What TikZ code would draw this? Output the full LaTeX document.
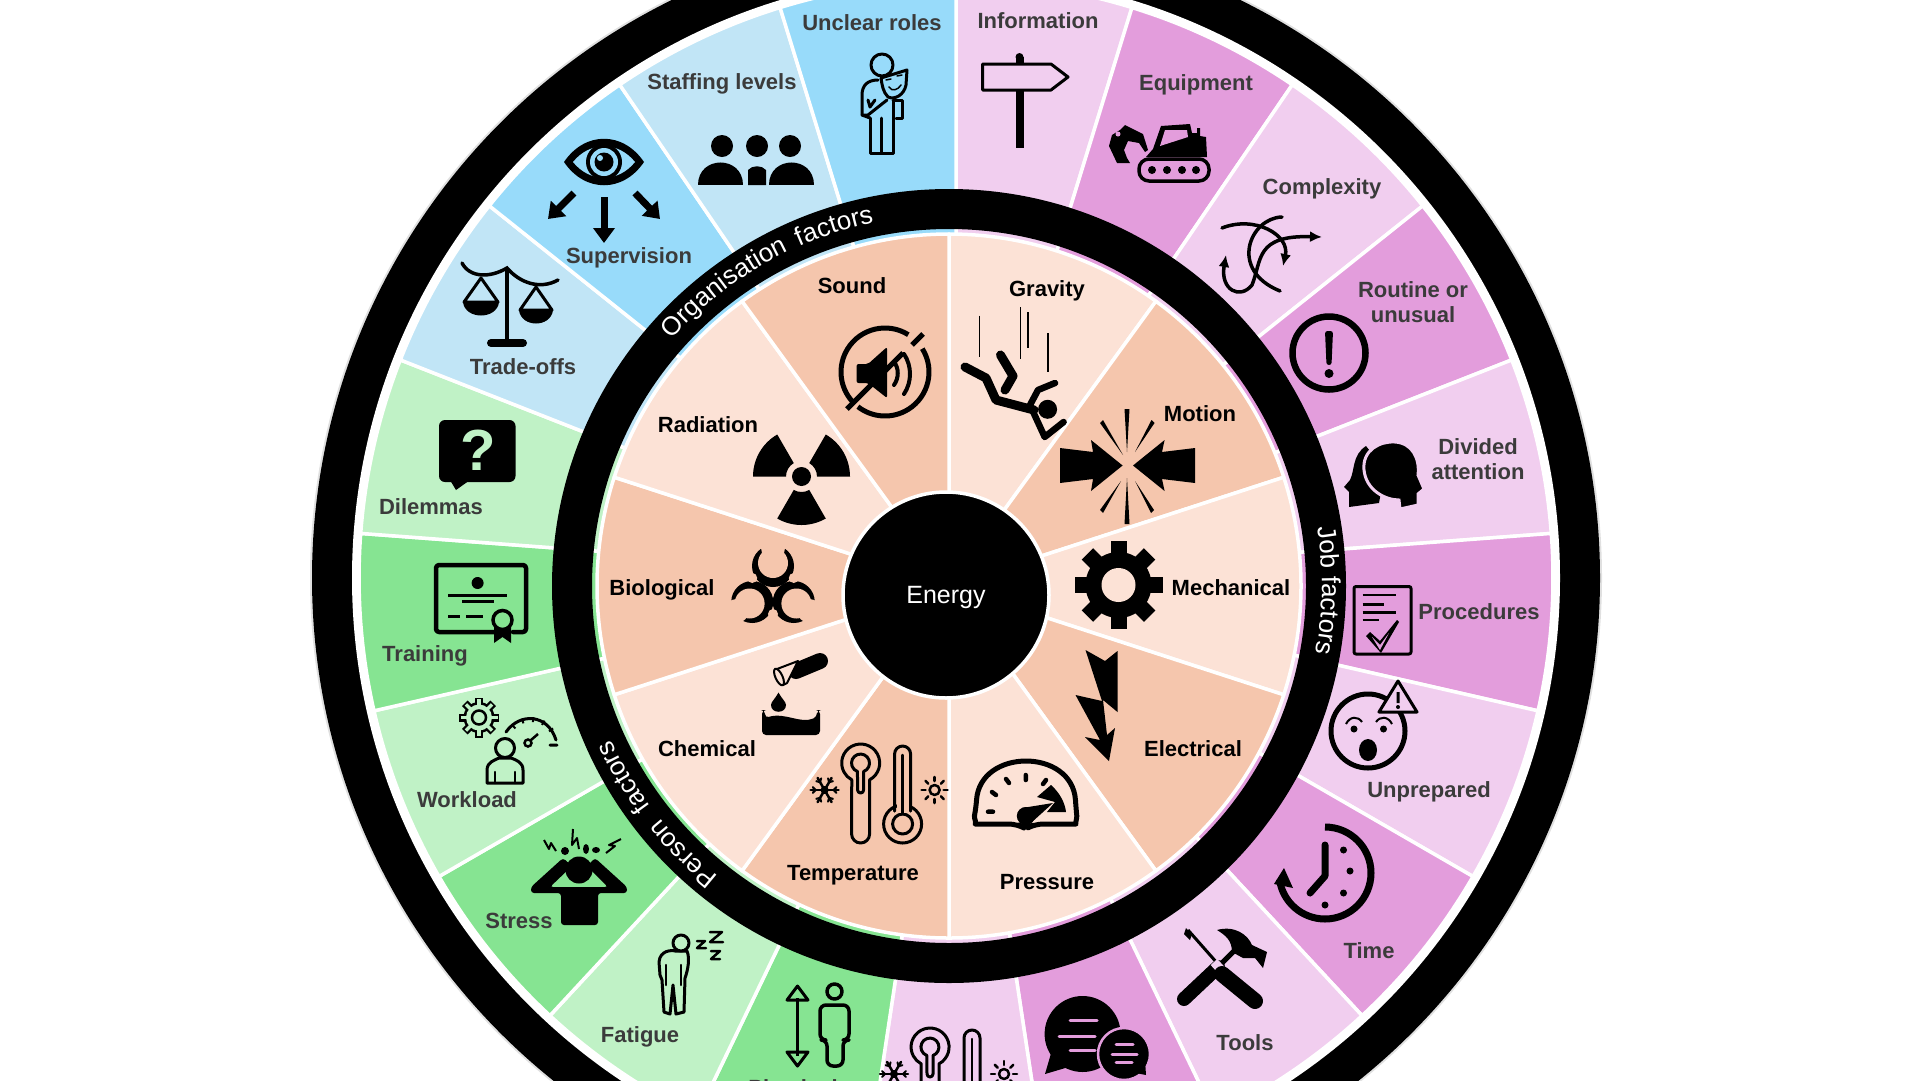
\documentclass[tikz,border=0pt]{standalone}
\usepackage{fontspec}
\setmainfont{Liberation Sans}
\usetikzlibrary{arrows.meta,calc,decorations.text}

\definecolor{pinkL}{HTML}{F1CEEF}
\definecolor{pinkD}{HTML}{E39DDC}
\definecolor{blueL}{HTML}{C1E5F6}
\definecolor{blueD}{HTML}{98DBFA}
\definecolor{greenL}{HTML}{C0F2C6}
\definecolor{greenD}{HTML}{86E492}
\definecolor{orangeL}{HTML}{FCE2D6}
\definecolor{orangeD}{HTML}{F5C6AD}
\definecolor{lblgrey}{HTML}{3B3B3B}

\newcommand{\ringfont}{\color{white}\fontsize{26}{26}\selectfont}
% the thermometers come twice
\newcommand{\tempicon}[3]{
  \begin{scope}[shift={(#1,#2)},ico,line width=3]
    \draw (9,71) -- (9,16.8) arc[start angle=62,delta angle=-304,radius=19] -- (-9,71)
      arc[start angle=180,delta angle=-180,radius=9];
    \draw (3,27) -- (3,8.5) arc[start angle=70,delta angle=-320,radius=9] -- (-3,27)
      arc[start angle=180,delta angle=-180,radius=3];
    \draw (34,48) -- (34,-9) arc[start angle=180,delta angle=180,radius=8] -- (50,48);
    \draw (42,61) circle (19) (42,61) circle (10);
    \fill[#3] (36,40) rectangle (48,50);
    \draw[line width=2.5] (34,46) -- (34,48) (50,46) -- (50,48) (42,51) -- (42,-8);
    \draw[line width=2] (-36,27) circle (3);
    \foreach \r in {0,60,...,300} {
      \draw[line width=2.5] (-36,27) -- +(\r:14);
      \draw[line width=2] (-36,27) ++(\r:9) -- +(\r+45:4) (-36,27) ++(\r:9) -- +(\r-45:4);
    }
    \draw[line width=2.5] (74,27) circle (5);
    \foreach \r in {0,45,...,315}
      \draw[line width=2.5] (74,27) ++(\r:9) -- +(\r:4);
  \end{scope}
}

\begin{document}
\begin{tikzpicture}[x=1pt,y=1pt,yscale=-1,
    outlbl/.style={font=\fontsize{22}{25}\selectfont\bfseries,text=lblgrey,align=center,inner sep=0},
    inlbl/.style={font=\fontsize{22}{25}\selectfont\bfseries,text=black,inner sep=0,text depth=0pt},
    ico/.style={line width=3.5,line join=round,line cap=round},
    fat/.style={line width=7,-{Triangle[width=21pt,length=15pt]}},
    spoke/.style={draw=white,line width=3.5,line join=round}]
  \useasboundingbox (0,0) rectangle (1920,1080);
  \clip (0,0) rectangle (1920,1080);

  \coordinate (outerC) at (956,578);
  \coordinate (innerC) at (949,586);

  % outer band
  \fill[black!12] (outerC) circle (646);
  \fill[black] (outerC) circle (644);
  \fill[white] (outerC) circle (604);
  \foreach \i/\col in {0/pinkL,1/pinkD,2/pinkL,3/pinkD,4/pinkL,5/pinkD,6/pinkL,7/pinkD,8/pinkL,9/pinkD,10/pinkL,
      11/greenD,12/greenL,13/greenD,14/greenL,15/greenD,16/greenL,
      17/blueL,18/blueD,19/blueL,20/blueD} {
    \pgfmathsetmacro\startang{-90+\i*360/21}
    \path[fill=\col,spoke] (outerC) -- ++(\startang:597)
      arc[start angle=\startang,delta angle=360/21,radius=597] -- cycle;
  }

  % inner wheel
  \fill[black,even odd rule] (innerC) circle (397) circle (357);
  \fill[white] (innerC) circle (353);
  \foreach \i/\col in {0/orangeL,1/orangeD,2/orangeL,3/orangeD,4/orangeL,5/orangeD,6/orangeL,7/orangeD,8/orangeL,9/orangeD} {
    \pgfmathsetmacro\startang{-90+\i*36}
    \path[fill=\col,spoke] (innerC) -- ++(\startang:352)
      arc[start angle=\startang,delta angle=36,radius=352] -- cycle;
  }
  \node[circle,fill=black,draw=white,line width=3.5,minimum size=206,inner sep=0] (energy) at (946,595) {};
  \node[text=white,inner sep=0,text depth=0pt,font=\fontsize{25}{25}\selectfont] (energytxt) at (energy.center) {Energy};

  % ring titles
  \path[decorate,decoration={text along path,text align=center,text={|\ringfont\spaceskip=12pt |Organisation factors}}]
    (innerC) ++(-142:371) arc[start angle=-142,delta angle=44,radius=371];
  \path[decorate,decoration={text along path,text align=center,text={|\ringfont|Job factors}}]
    (innerC) ++(-12.8:373) arc[start angle=-12.8,delta angle=27,radius=373];
  \path[decorate,decoration={text along path,text align=center,text={|\ringfont\spaceskip=15pt |Person factors}}]
    (innerC) ++(124:371) arc[start angle=124,delta angle=36,radius=371];

  % labels
  \foreach \nm/\x/\y/\txt in {unclear/872/23/Unclear roles,staffing/722/82/Staffing levels,
      supervision/629/256/Supervision,tradeoffs/523/367/Trade-offs,dilemmas/431/507/Dilemmas,
      training/425/654/Training,workload/467/800/Workload,stress/519/921/Stress,fatigue/640/1035/Fatigue,
      physical/793/1088/Physical,information/1038/21/Information,equipment/1196/83/Equipment,
      complexity/1322/187/Complexity,procedures/1479/612/Procedures,unprepared/1429/790/Unprepared,
      time/1369/951/Time,tools/1245/1043/Tools}
    \node[outlbl,text depth=0pt] (\nm) at (\x,\y) {\txt};
  \node[outlbl] (routine) at (1413,302) {Routine or\\unusual};
  \node[outlbl] (divided) at (1478,459) {Divided\\attention};
  \foreach \nm/\x/\y/\txt in {sound/852/286/Sound,gravity/1047/289/Gravity,motion/1200/414/Motion,
      mechanical/1231/588/Mechanical,electrical/1193/749/Electrical,pressure/1047/882/Pressure,
      temperature/853/873/Temperature,chemical/707/749/Chemical,biological/662/588/Biological,radiation/708/425/Radiation}
    \node[inlbl] (\nm) at (\x,\y) {\txt};

  % --- organisation icons ---
  % eye and arrows
  \fill (564,162) .. controls (585,131) and (623,131) .. (644,162) .. controls (623,193) and (585,193) .. (564,162) -- cycle;
  \fill[blueD] (573,162) .. controls (590,141) and (618,141) .. (635,162) .. controls (618,183) and (590,183) .. (573,162) -- cycle;
  \fill (604,162) circle (18);
  \fill[blueD] (604,162) circle (14);
  \fill (604,162) circle (9.5);
  \fill[blueD] (600,158) circle (3);
  \draw[fat] (604,197) -- (604,243);
  \draw[fat] (574,193) -- (548,219);
  \draw[fat] (635,193) -- (660,219);
  % three people
  \fill (722,146) circle (11) (757,146) circle (11) (790,146) circle (11);
  \fill (698,185) .. controls (698,155) and (743,155) .. (743,185) -- cycle;
  \fill (769,185) .. controls (769,155) and (814,155) .. (814,185) -- cycle;
  \fill (748,185) -- (748,170) .. controls (752,165) and (762,165) .. (766,170) -- (766,185) -- cycle;
  % figure with mask
  \begin{scope}[ico,line width=3]
    \draw (882,65) circle (11);
    \draw (870,118) -- (870,153) -- (893,153) -- (893,100) (881,153) -- (881,118);
    \draw (870,118) -- (862,115) -- (862,95) .. controls (862,85) and (868,80) .. (878,80);
    \draw (862,115) -- (868,115) -- (887,100) (868,100) -- (870,107) -- (875,100);
    \draw (893,100) -- (902,100) -- (902,118) -- (896,118);
    \draw[fill=blueD] (881,78) -- (907,70) -- (906,85) .. controls (904,95) and (895,100) .. (888,97) .. controls (883,92) and (882,85) .. (881,78) -- cycle;
    \draw[line width=1.5] (886,80) -- (891,79) (897,76) -- (902,75) (889,87) .. controls (892,92) and (898,90) .. (901,85);
  \end{scope}
  % scales
  \draw[line width=3.5,line cap=round] (462,263) .. controls (470,278) and (490,278) .. (507,268) .. controls (520,283) and (540,290) .. (558,280);
  \draw[line width=3.5] (507,268) -- (507,343);
  \draw[line width=8,line cap=round] (491,343) -- (523,343);
  \draw[line width=3,line join=round] (464,302) -- (481,278) -- (498,302) -- cycle (520,310) -- (536,287) -- (552,310) -- cycle;
  \fill (463,302) .. controls (465,320) and (497,320) .. (499,302) -- cycle;
  \fill (519,310) .. controls (521,328) and (551,328) .. (553,310) -- cycle;

  % --- person icons ---
  % question bubble
  \fill[rounded corners=6] (439,420) rectangle (515.5,482);
  \fill (450,480) -- (456,490) -- (470,480) -- cycle;
  \node[text=greenL,inner sep=0,font=\fontsize{58}{58}\selectfont\bfseries] (qmark) at (478,450) {?};
  % certificate
  \draw[ico,line width=4.5,rounded corners=3] (494,632) -- (436,632) -- (436,565) -- (526,565) -- (526,632) -- (513,632);
  \fill (477.6,583) circle (6);
  \draw[line width=3] (448,595) -- (507,595) (462,601) -- (494,601);
  \draw[line width=3] (448,616) -- (460,616) (466,616) -- (483,616);
  \fill (494,625) -- (494,643) -- (502.5,637) -- (511,643) -- (511,625) -- cycle;
  \draw[line width=3.5,fill=greenD] (502.5,620) circle (9.5);
  % gear, gauge and person
  \foreach \r in {0,45,...,315}
    \draw[line width=8] (479,717.5) ++(\r:13) -- ++(\r:7);
  \fill (479,717.5) circle (15.5);
  \foreach \r in {0,45,...,315}
    \draw[line width=3.5,greenL] (479,717.5) ++(\r:10) -- ++(\r:8.5);
  \fill[greenL] (479,717.5) circle (13);
  \draw[line width=2.5] (479,717.5) circle (7);
  \draw[ico,line width=3] (506,732) .. controls (520,712) and (548,714) .. (556,740) (550,745) -- (557,745);
  \foreach \r in {-135,-110,-85,-60,-35}
    \draw[line width=2] (531,744) ++(\r:22) -- ++(\r:5);
  \draw[line width=2.5] (528,743) circle (3.5) (531,740) -- (538,734);
  \draw[ico,line width=3] (505,748) circle (9.5);
  \draw[ico,line width=3] (487,783) -- (487,770) .. controls (487,762) and (495,760) .. (499,758) -- (511,758) .. controls (516,760) and (523,762) .. (523,770) -- (523,783) -- cycle;
  \draw[ico,line width=2.5] (495,772) -- (495,783) (515,772) -- (515,783);
  % stress
  \fill (579,870) circle (13.5);
  \fill (561,925) [rounded corners=3] -- (561,893) -- (531,893) -- (531,887) -- (563,858) -- (572,866) -- (550,887) -- (608,887) -- (587,866) -- (595,858) -- (627,887) -- (627,893) -- (598,893) -- (598,925) -- cycle;
  \draw[line width=2,line join=round] (544,840) -- (549,849) -- (551,843) -- (556,851);
  \draw[line width=2,line join=round] (573,829) -- (572,845) -- (577,838) -- (579,849);
  \draw[line width=2,line join=round] (621,839) -- (609,845) -- (615,846) -- (606,853);
  \fill (565,851) circle (4) (586,849) ellipse (3 and 5) (596,850) ellipse (4 and 3);
  % asleep on his feet
  \draw[ico,line width=3,fill=greenL] (660,975) -- (659,962) .. controls (660,950) and (672,950) .. (675,951) -- (687,951) .. controls (690,958) and (688,970) .. (685,978) -- (684,1012) -- (676,1014) -- (673,985) -- (670,1014) -- (664,1012) -- (662,980) -- cycle;
  \draw[ico,line width=3,fill=greenL] (681,943) circle (8);
  \draw[ico,line width=2.5] (666,965) -- (666,985) (681,965) -- (681,985);
  \draw[ico,line width=2.5] (697,941) -- (705,941) -- (697,948) -- (706,948);
  \draw[ico,line width=2.5] (710,932) -- (722,932) -- (710,942) -- (723,942);
  \draw[ico,line width=2.5] (711,951) -- (720,951) -- (711,959) -- (720,959);
  % up and down
  \draw[line width=3] (797.5,998) -- (797.5,1056);
  \draw[ico,line width=3] (787,1000) -- (797.5,986) -- (808,1000) -- cycle (787,1052) -- (797.5,1066) -- (808,1052) -- cycle;
  \draw[ico,line width=3.5] (834.5,991.5) circle (7.5);
  \draw[ico,line width=3.5,rounded corners=6] (820,1040) -- (820,1005) -- (849,1005) -- (849,1040) -- (843,1040) -- (843,1066) -- (827,1066) -- (827,1040) -- cycle;

  % --- job icons ---
  % signpost
  \fill (1015.5,57) -- (1023.5,57) -- (1023.5,148) -- (1015.5,148) -- cycle;
  \fill (1019.5,57) circle (4);
  \draw[ico,line width=3,fill=pinkL] (982.5,64) -- (1051,64) -- (1068,77) -- (1051,90) -- (982.5,90) -- cycle;
  % excavator
  \draw[ico,line width=3.5,rounded corners=10] (1139,159) rectangle (1209,181);
  \foreach \x in {1152,1167,1182,1196} \fill (\x,170) circle (4);
  \fill (1146,157) -- (1153,149) -- (1161,126) -- (1190,124) -- (1192,133) -- (1197,133) -- (1197,128) -- (1200,128) -- (1200,136) -- (1206,137) -- (1207,157) -- cycle;
  \fill[pinkD] (1165,130) -- (1187,130) -- (1188,137) -- (1160,146) -- cycle;
  \fill (1148,150) -- (1143,134) -- (1125,125) -- (1120,130) -- (1112,135) -- (1109,146) -- (1117,163) -- (1130,163) -- (1127,158) -- (1124,150) -- (1128,141) -- (1139,143) -- (1145,152) -- cycle;
  \fill[pinkD] (1118,134) circle (2.5);
  % curved arrows
  \begin{scope}[ico,line width=3.5,arrows={-{Latex[length=12pt,width=11pt]}}]
    \draw[-] (1282,217) .. controls (1250,218) and (1228,270) .. (1280,291);
    \draw (1222,228) .. controls (1255,215) and (1290,235) .. (1283,266);
    \draw[{Latex[length=12pt,width=11pt]}-{Latex[length=12pt,width=11pt]}] (1226,255) .. controls (1220,290) and (1240,300) .. (1252,285) .. controls (1262,260) and (1255,235) .. (1322,237);
  \end{scope}
  % exclamation
  \draw[line width=6.5] (1329,353) circle (36.5);
  \fill[rounded corners=2.5] (1325,331) -- (1333,331) -- (1331.5,365) -- (1326.5,365) -- cycle;
  \fill (1329,373.5) circle (4.5);
  % two heads
  \fill (1366,446) .. controls (1352,455) and (1355,470) .. (1350,480) -- (1344,487) -- (1349,492) -- (1349,507) -- (1379,503) -- (1385,470) -- cycle;
  \draw[draw=pinkL,line width=3,fill=black] (1364,470) .. controls (1362,450) and (1380,441) .. (1395,442) .. controls (1412,443) and (1420,458) .. (1418,475) -- (1424,489) -- (1418,494) -- (1418,505) -- (1400,509) -- (1399,500) .. controls (1385,500) and (1366,490) .. (1364,470) -- cycle;
  % checklist
  \draw[ico,line width=3,rounded corners=2] (1354,586.5) rectangle (1411,654);
  \draw[line width=2.5] (1362.5,595) -- (1396,595) (1362.5,604.5) -- (1384,604.5) (1362.5,612.5) -- (1396,612.5) (1362.5,620) -- (1379,620);
  \fill (1366,636) -- (1370,632) -- (1380,641) -- (1397,620) -- (1399,622) -- (1381,653) -- cycle;
  \fill[pinkD] (1372,637) -- (1380,645) -- (1389,633) -- (1380,650) -- cycle;
  % startled face
  \draw[line width=5] (1368,731) ellipse (37 and 37);
  \draw[ico,line width=3,fill=pinkL] (1398,681) -- (1417,712) -- (1379,712) -- cycle;
  \fill (1396.5,692) rectangle (1399.5,703) (1398,707) circle (2);
  \fill (1354,729) circle (3.5) (1383.5,729) circle (3.5) (1368,750) ellipse (9 and 11);
  \draw[line width=2] (1346,724) .. controls (1350,716) and (1358,716) .. (1362,722) (1376,722) .. controls (1380,716) and (1388,716) .. (1392,724);
  % clock with arrow
  \draw[line width=7] (1325,873) ++(-90:46) arc[start angle=-90,delta angle=262,radius=46];
  \fill (1274,884) -- (1284,868) -- (1293,888) -- cycle;
  \draw[ico,line width=7] (1325,845) -- (1325,876) -- (1310,893);
  \fill (1343.5,850) circle (3.5) (1350,871) circle (3.5) (1343.5,893) circle (3.5) (1325,905) circle (3.5);
  % hammer and screwdriver
  \draw[line width=3] (1188,930) -- (1218,964);
  \fill (1186,928) -- (1192,934) -- (1190,940) -- (1184,934) -- cycle;
  \draw[line width=14,line cap=round] (1184,999) -- (1218,967);
  \draw[line width=5] (1218,967) -- (1237,948);
  \fill (1217,930) .. controls (1235,925) and (1248,935) .. (1252,945) -- (1267,952) -- (1263,968) -- (1255,958) -- (1243,958) -- (1232,952) .. controls (1232,940) and (1225,935) .. (1217,930) -- cycle;
  \draw[pinkL,line width=9] (1214,962) -- (1224,973);
  \draw[line width=16,line cap=round] (1222,974) -- (1255,1001);
  % speech bubbles
  \fill (1082.6,1034) circle (38);
  \fill (1045,1074) -- (1052,1050) -- (1072,1066) -- cycle;
  \draw[pinkD,line width=2.5,fill=black] (1124,1054) circle (26);
  \fill (1146,1075) -- (1130,1072) -- (1145,1060) -- cycle;
  \draw[pinkD,line width=3,line cap=round] (1070,1020) -- (1097,1020) (1059,1036) -- (1095,1036) (1070,1050) -- (1095,1050);
  \draw[pinkD,line width=3,line cap=round] (1116,1044.5) -- (1133,1044.5) (1112,1054) -- (1137,1054) (1116,1062) -- (1132,1062);
  \tempicon{930}{1047}{pinkL}

  % --- energy icons ---
  % mute speaker
  \draw[line width=5] (885,372) ++(-32:44) arc[start angle=-32,delta angle=160,radius=44];
  \draw[line width=5] (885,372) ++(-58:44) arc[start angle=-58,delta angle=-164,radius=44];
  \draw[line width=5] (847,409) -- (903,353) (912,345) -- (923,334);
  \fill[rounded corners=2] (856.6,364) -- (868,364) -- (887,347) -- (887,398) -- (868,383) -- (856.6,383) -- cycle;
  \draw[line width=4,line cap=round] (894,362) .. controls (899,368) and (899,378) .. (894,385);
  \draw[line width=4,line cap=round] (904,354) .. controls (912,366) and (912,382) .. (904,394);
  % falling figure
  \draw[line width=1.5] (979.5,315.5) -- (979.5,357) (1020.7,307) -- (1020.7,358.6) (1028,312) -- (1028,348) (1048,333) -- (1048,372);
  \fill (1047.6,409.3) circle (9.5);
  \draw[line width=9,line cap=round,line join=round] (965,367) -- (986,378) -- (996,400) -- (1034,410);
  \draw[line width=9,line cap=round,line join=round] (1000.5,355) -- (1013,376) -- (1005,390);
  \draw[line width=6.5,line cap=round,line join=round] (1055,383) -- (1038,390) -- (1030,405) -- (1044.7,437) -- (1063.6,422);
  % collision
  \fill (1060,448) -- (1093,452) -- (1091,440) -- (1122.6,465.5) -- (1091,491) -- (1093,479) -- (1060,483) -- cycle;
  \fill (1195,448) -- (1162,452) -- (1164.6,440) -- (1133,465.5) -- (1164.6,491) -- (1162,479) -- (1195,483) -- cycle;
  \fill (1124.5,409) -- (1129.5,409) -- (1127,452) -- cycle;
  \fill (1124.5,524) -- (1129.5,524) -- (1127,478) -- cycle;
  \fill (1100,423) -- (1103,420) -- (1123,455) -- cycle;
  \fill (1154.5,423) -- (1151.5,420) -- (1135,452) -- cycle;
  \fill (1100,510) -- (1103,513) -- (1121,481) -- cycle;
  \fill (1154,510) -- (1151,513) -- (1135,481) -- cycle;
  % gear
  \foreach \r in {0,45,...,315}
    \fill[rotate around={\r:(1118.5,585)}] (1110.5,585) rectangle (1126.5,541);
  \fill (1118.5,585) circle (33);
  \fill[orangeL] (1118.5,585) circle (17);
  % lightning
  \fill (1085.5,650) -- (1105,661) -- (1117.5,651) -- (1117.5,712) -- (1103,700) -- (1107,735) -- (1115,728) -- (1109,761) -- (1085,737) -- (1100,740) -- (1075.5,695) -- (1102,701) -- cycle;
  % pressure dial
  \draw[line width=5,line join=round,rounded corners=8] (1025.8,829) -- (1017,824) -- (983,824) .. controls (977,824) and (974,818) .. (976,808) .. controls (980,748) and (1072,748) .. (1076,808) .. controls (1077,818) and (1075,824) .. (1068,824) -- (1035,824) -- cycle;
  \draw[line width=4.5,line cap=round] (988,811.7) -- (993,811.7) (992,792) -- (996,795) (1006,779) -- (1009,783) (1025.8,775) -- (1025.8,780) (1046,780) -- (1043,784);
  \fill (1051,785) .. controls (1060,793) and (1065,803) .. (1066,812) -- (1047,812) -- (1055,802) -- (1037,797) -- cycle;
  \fill (1025.8,816) circle (9);
  \fill (1022,808) -- (1053,803) -- (1032,822) -- cycle;
  % thermometers
  \tempicon{860.6}{763}{orangeD}
  % beaker
  \draw[line width=16,line cap=round] (796,671) -- (820,661);
  \draw[line width=2,line join=round,fill=orangeL] (777,669) -- (798,661) -- (787,683) -- (783,685) -- cycle;
  \draw[line width=2,fill=orangeL,rotate around={-25:(779,677)}] (779,677) ellipse (3.5 and 9);
  \fill (778.5,692.5) .. controls (782,699) and (786,702) .. (786,705) .. controls (786,714) and (771,714) .. (771,705) .. controls (771,702) and (775,699) .. (778.5,692.5) -- cycle;
  \fill[rounded corners=4] (762,710) -- (765,710) -- (765,718) .. controls (785,712) and (800,724) .. (817,717) -- (817,710) -- (820,710) -- (820,735) -- (762,735) -- cycle;
  % biohazard
  \foreach \r in {-90,30,150}
    \fill (773,590) ++(\r:24) circle (21);
  \foreach \r in {-90,30,150} {
    \fill[orangeD] (773,590) ++(\r:27) circle (15);
    \fill[orangeD] (773,590) ++(\r:42) circle (12);
  }
  \foreach \r in {-30,90,210}
    \fill[orangeD] (773,590) ++(\r:24) circle (5);
  % trefoil
  \foreach \r in {-180,-60,60} {
    \fill (801.5,476.5) ++(\r:15.5) -- ++(\r:33) arc[start angle=\r,delta angle=60,radius=48.5]
      -- ($(801.5,476.5)+(\r+60:15.5)$) arc[start angle=\r+60,delta angle=-60,radius=15.5] -- cycle;
  }
  \fill (801.5,476.5) circle (9.5);
\end{tikzpicture}
\end{document}
